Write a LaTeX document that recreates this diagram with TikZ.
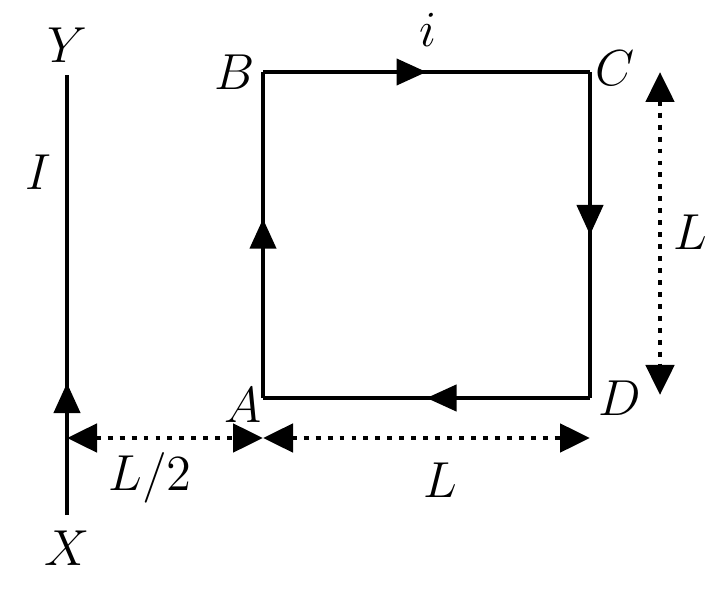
\documentclass[tikz,border=0pt]{standalone}
\usepackage{tikz}
\usetikzlibrary{arrows.meta,decorations.markings}
\tikzset{
	wire/.style={line width=1.2pt},
	midarrow/.style={postaction={decorate},decoration={markings,mark=at position #1 with {\arrow{Triangle[length=0.3cm,width=0.26cm]}}}},
	dimline/.style={line width=1.4pt,dotted,{Triangle[length=0.3cm,width=0.28cm]}-{Triangle[length=0.3cm,width=0.28cm]}},
	lbl/.style={font=\Large\itshape}
}
\begin{document}
\begin{tikzpicture}[x=1cm,y=1cm]
	\useasboundingbox (0,0) rectangle (7.08,5.89);
	% long straight wire
	\coordinate (X) at (0.67,0.74);
	\coordinate (Y) at (0.67,5.14);
	\draw[wire,midarrow=0.3] (X) -- (Y);
	\node[lbl] at (0.67,5.44) {$Y$};
	\node[lbl] at (0.67,0.41) {$X$};
	\node[lbl] at (0.38,4.17) {$I$};
	% square loop
	\coordinate (A) at (2.63,1.91);
	\coordinate (B) at (2.63,5.17);
	\coordinate (C) at (5.90,5.17);
	\coordinate (D) at (5.90,1.91);
	\draw[wire,midarrow=0.55] (A) -- (B);
	\draw[wire,midarrow=0.5] (B) -- (C);
	\draw[wire,midarrow=0.5] (C) -- (D);
	\draw[wire,midarrow=0.5] (D) -- (A);
	\node[lbl] at (2.35,5.17) {$B$};
	\node[lbl] at (6.15,5.21) {$C$};
	\node[lbl] at (6.20,1.91) {$D$};
	\node[lbl] at (2.43,1.84) {$A$};
	\node[lbl] at (4.28,5.59) {$i$};
	% dimensions
	\coordinate (d0) at (0.67,1.51);
	\coordinate (d1) at (2.63,1.51);
	\coordinate (d2) at (5.90,1.51);
	\draw[dimline] (d0) -- (d1);
	\draw[dimline] (d1) -- (d2);
	\node[lbl] at (1.50,1.11) {$L/2$};
	\node[lbl] at (4.40,1.09) {$L$};
	\coordinate (v0) at (6.60,5.17);
	\coordinate (v1) at (6.60,1.94);
	\draw[dimline] (v0) -- (v1);
	\node[lbl] at (6.90,3.57) {$L$};
\end{tikzpicture}
\end{document}
